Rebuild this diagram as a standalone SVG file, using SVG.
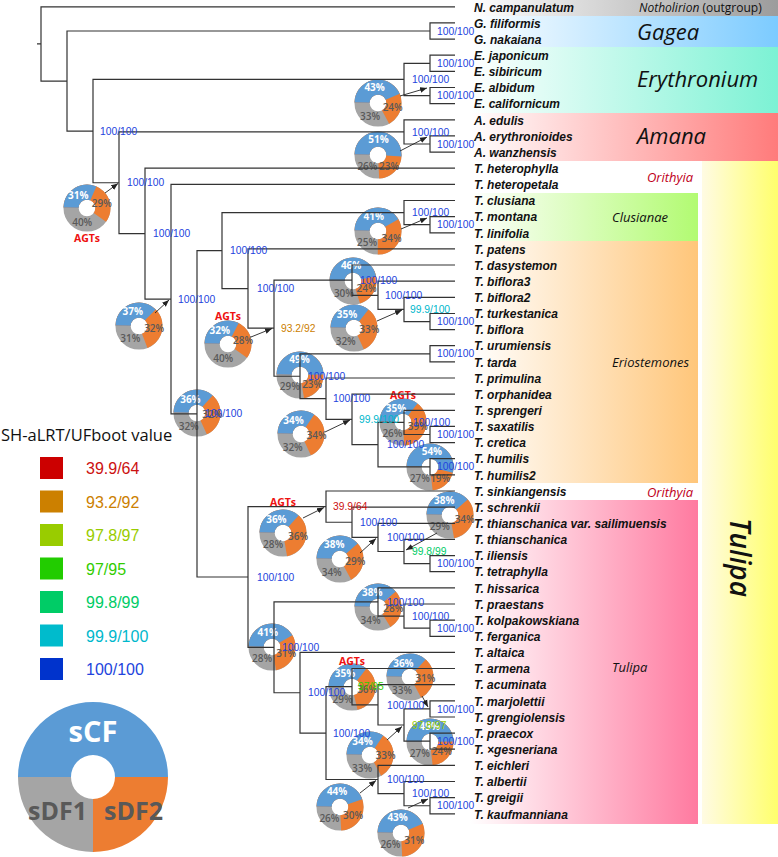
<svg xmlns="http://www.w3.org/2000/svg" width="778" height="857" viewBox="0 0 778 857">
<defs>
<style>
.tr{fill:none;stroke:#333;stroke-width:1.2}
.ar{stroke:#222;stroke-width:0.9}
.sv{font-family:"Liberation Sans",Arial,sans-serif;font-size:10.3px}
.c1{fill:#2244dd}.c2{fill:#00b8cc}.c3{fill:#00cc66}.c4{fill:#33cc00}.c5{fill:#99cc00}.c6{fill:#cc8000}.c7{fill:#cc1111}
.tx{font-family:"Liberation Sans",Arial,sans-serif;font-size:13.5px;font-weight:bold;font-style:italic;fill:#111}
.pr{fill:none;stroke-width:15.2}
.pg{stroke:#a5a5a5}
.po{stroke:#ed7d31;stroke-dashoffset:50}
.pb{stroke:#5b9bd5;stroke-dashoffset:50}
.pw{font-family:"Open Sans",sans-serif;font-size:10px;font-weight:700;fill:#fff;text-anchor:middle}
.pd{font-family:"Open Sans",sans-serif;font-size:10px;font-weight:600;fill:#595959;text-anchor:middle}
.agt{font-family:"Open Sans",sans-serif;font-size:10.5px;font-weight:700;fill:#ee1111;text-anchor:middle}
.cl{font-family:"Open Sans",sans-serif;font-style:italic;fill:#111}
.lg{font-family:"Liberation Sans",Arial,sans-serif;font-size:16px}
</style>
<linearGradient id="gN"><stop offset="0" stop-color="#fff"/><stop offset="1" stop-color="#9c9c9c"/></linearGradient>
<linearGradient id="gG"><stop offset="0" stop-color="#fff"/><stop offset="1" stop-color="#7ccbff"/></linearGradient>
<linearGradient id="gE"><stop offset="0" stop-color="#fff"/><stop offset="1" stop-color="#7cf2d4"/></linearGradient>
<linearGradient id="gA"><stop offset="0" stop-color="#fff"/><stop offset="1" stop-color="#ff7b7b"/></linearGradient>
<linearGradient id="gC"><stop offset="0" stop-color="#fff"/><stop offset="1" stop-color="#b2fb72"/></linearGradient>
<linearGradient id="gR"><stop offset="0" stop-color="#fff"/><stop offset="1" stop-color="#ffc67a"/></linearGradient>
<linearGradient id="gT"><stop offset="0" stop-color="#fff"/><stop offset="1" stop-color="#ff7aa0"/></linearGradient>
<linearGradient id="gY"><stop offset="0" stop-color="#fffbe3"/><stop offset="1" stop-color="#ffff6c"/></linearGradient>
<marker id="ah" viewBox="0 0 10 10" refX="10" refY="5" markerWidth="7" markerHeight="7" orient="auto" markerUnits="userSpaceOnUse"><path d="M0,1 L10,5 L0,9 z" fill="#222"/></marker>
</defs>
<rect width="778" height="857" fill="#fff"/>

<g id="bands">
<rect x="470" y="0" width="308" height="16" fill="url(#gN)"/>
<rect x="470" y="16" width="308" height="31" fill="url(#gG)"/>
<rect x="470" y="47" width="308" height="66" fill="url(#gE)"/>
<rect x="470" y="113" width="308" height="48" fill="url(#gA)"/>
<rect x="702" y="161" width="76" height="663" fill="url(#gY)"/>
<rect x="470" y="193" width="228" height="48" fill="url(#gC)"/>
<rect x="470" y="241" width="228" height="242" fill="url(#gR)"/>
<rect x="470" y="500" width="228" height="324" fill="url(#gT)"/>
<text class="cl" x="639" y="12" font-size="12"><tspan>Notholirion</tspan><tspan font-style="normal"> (outgroup)</tspan></text>
<text class="cl" x="637" y="39.5" font-size="22" font-weight="500">Gagea</text>
<text class="cl" x="637" y="87" font-size="22" font-weight="500">Erythronium</text>
<text class="cl" x="637" y="144" font-size="22" font-weight="500">Amana</text>
<text class="cl" x="647" y="182" font-size="13" font-weight="500" style="fill:#c0001a">Orithyia</text>
<text class="cl" x="612" y="221.5" font-size="13" font-weight="500">Clusianae</text>
<text class="cl" x="612" y="366.5" font-size="13" font-weight="500">Eriostemones</text>
<text class="cl" x="647" y="496.5" font-size="13" font-weight="500" style="fill:#c0001a">Orithyia</text>
<text class="cl" x="612" y="671.5" font-size="13" font-weight="500">Tulipa</text>
<text class="cl" transform="translate(730,518) rotate(90)" font-size="28" font-weight="600">Tulipa</text>
</g>

<g id="pies">
<g id="pie1" transform="translate(87,208)"><circle class="pr pg" r="15.915"/><circle class="pr po" r="15.915" stroke-dasharray="60 40"/><circle class="pr pb" r="15.915" stroke-dasharray="31 69"/><text class="pw" x="-8.7" y="-9.3">31%</text><text class="pd" x="14.9" y="-0.8">29%</text><text class="pd" x="-4.8" y="18.2">40%</text></g>
<g id="pie2" transform="translate(378,103)"><circle class="pr pg" r="15.915"/><circle class="pr po" r="15.915" stroke-dasharray="67 33"/><circle class="pr pb" r="15.915" stroke-dasharray="43 57"/><text class="pw" x="-3.4" y="-11.6">43%</text><text class="pd" x="14.7" y="8.3">24%</text><text class="pd" x="-7.9" y="16.8">33%</text></g>
<g id="pie3" transform="translate(378,155)"><circle class="pr pg" r="15.915"/><circle class="pr po" r="15.915" stroke-dasharray="74 26"/><circle class="pr pb" r="15.915" stroke-dasharray="51 49"/><text class="pw" x="0.5" y="-12">51%</text><text class="pd" x="11" y="14.5">23%</text><text class="pd" x="-10.6" y="14.8">26%</text></g>
<g id="pie4" transform="translate(378,231)"><circle class="pr pg" r="15.915"/><circle class="pr po" r="15.915" stroke-dasharray="75 25"/><circle class="pr pb" r="15.915" stroke-dasharray="41 59"/><text class="pw" x="-4.3" y="-11.4">41%</text><text class="pd" x="13.6" y="11">34%</text><text class="pd" x="-11" y="14.5">25%</text></g>
<g id="pie6" transform="translate(353,281)"><circle class="pr pg" r="15.915"/><circle class="pr po" r="15.915" stroke-dasharray="70 30"/><circle class="pr pb" r="15.915" stroke-dasharray="46 54"/><text class="pw" x="-1.9" y="-11.9">46%</text><text class="pd" x="13.6" y="11">24%</text><text class="pd" x="-9.1" y="16">30%</text></g>
<g id="pie7" transform="translate(354,328)"><circle class="pr pg" r="15.915"/><circle class="pr po" r="15.915" stroke-dasharray="68 32"/><circle class="pr pb" r="15.915" stroke-dasharray="35 65"/><text class="pw" x="-7" y="-10.3">35%</text><text class="pd" x="15.4" y="5">33%</text><text class="pd" x="-8.3" y="16.6">32%</text></g>
<g id="pie8" transform="translate(228,344)"><circle class="pr pg" r="15.915"/><circle class="pr po" r="15.915" stroke-dasharray="60 40"/><circle class="pr pb" r="15.915" stroke-dasharray="32 68"/><text class="pw" x="-8.3" y="-9.6">32%</text><text class="pd" x="15" y="-0.4">28%</text><text class="pd" x="-4.8" y="18.2">40%</text></g>
<g id="pie9" transform="translate(300,375)"><circle class="pr pg" r="15.915"/><circle class="pr po" r="15.915" stroke-dasharray="72 28"/><circle class="pr pb" r="15.915" stroke-dasharray="49 51"/><text class="pw" x="-0.5" y="-12">49%</text><text class="pd" x="12.2" y="13">23%</text><text class="pd" x="-10.2" y="15.1">29%</text></g>
<g id="pie10" transform="translate(139,326)"><circle class="pr pg" r="15.915"/><circle class="pr po" r="15.915" stroke-dasharray="69 31"/><circle class="pr pb" r="15.915" stroke-dasharray="37 63"/><text class="pw" x="-6.2" y="-10.7">37%</text><text class="pd" x="15.2" y="6.4">32%</text><text class="pd" x="-8.7" y="16.3">31%</text></g>
<g id="pie11" transform="translate(197,413)"><circle class="pr pg" r="15.915"/><circle class="pr po" r="15.915" stroke-dasharray="68 32"/><circle class="pr pb" r="15.915" stroke-dasharray="36 64"/><text class="pw" x="-6.6" y="-10.5">36%</text><text class="pd" x="15.4" y="5.4">32%</text><text class="pd" x="-8.3" y="16.6">32%</text></g>
<g id="pie12" transform="translate(301,434)"><circle class="pr pg" r="15.915"/><circle class="pr po" r="15.915" stroke-dasharray="68 32"/><circle class="pr pb" r="15.915" stroke-dasharray="34 66"/><text class="pw" x="-7.5" y="-10.1">34%</text><text class="pd" x="15.5" y="4.5">34%</text><text class="pd" x="-8.3" y="16.6">32%</text></g>
<g id="pie13" transform="translate(403,422)"><circle class="pr pg" r="15.915"/><circle class="pr po" r="15.915" stroke-dasharray="74 26"/><circle class="pr pb" r="15.915" stroke-dasharray="35 65"/><text class="pw" x="-7" y="-10.3">35%</text><text class="pd" x="14.9" y="7.8">39%</text><text class="pd" x="-10.6" y="14.8">26%</text></g>
<g id="pie14" transform="translate(430,467)"><circle class="pr pg" r="15.915"/><circle class="pr po" r="15.915" stroke-dasharray="73 27"/><circle class="pr pb" r="15.915" stroke-dasharray="54 46"/><text class="pw" x="1.9" y="-11.9">54%</text><text class="pd" x="10.2" y="15.1">19%</text><text class="pd" x="-10.2" y="15.1">27%</text></g>
<g id="pie15" transform="translate(283,533)"><circle class="pr pg" r="15.915"/><circle class="pr po" r="15.915" stroke-dasharray="72 28"/><circle class="pr pb" r="15.915" stroke-dasharray="36 64"/><text class="pw" x="-6.6" y="-10.5">36%</text><text class="pd" x="15" y="7.4">36%</text><text class="pd" x="-9.9" y="15.4">28%</text></g>
<g id="pie16" transform="translate(450,515)"><circle class="pr pg" r="15.915"/><circle class="pr po" r="15.915" stroke-dasharray="72 28"/><circle class="pr pb" r="15.915" stroke-dasharray="38 62"/><text class="pw" x="-5.7" y="-10.9">38%</text><text class="pd" x="14.7" y="8.3">34%</text><text class="pd" x="-10.2" y="15.1">29%</text></g>
<g id="pie17" transform="translate(340,559)"><circle class="pr pg" r="15.915"/><circle class="pr po" r="15.915" stroke-dasharray="67 33"/><circle class="pr pb" r="15.915" stroke-dasharray="38 62"/><text class="pw" x="-5.7" y="-10.9">38%</text><text class="pd" x="15.3" y="5.9">29%</text><text class="pd" x="-8.3" y="16.6">34%</text></g>
<g id="pie18" transform="translate(378,607)"><circle class="pr pg" r="15.915"/><circle class="pr po" r="15.915" stroke-dasharray="66 34"/><circle class="pr pb" r="15.915" stroke-dasharray="38 62"/><text class="pw" x="-5.7" y="-10.9">38%</text><text class="pd" x="15.4" y="5.4">28%</text><text class="pd" x="-7.5" y="17.1">34%</text></g>
<g id="pie19" transform="translate(272,647)"><circle class="pr pg" r="15.915"/><circle class="pr po" r="15.915" stroke-dasharray="72 28"/><circle class="pr pb" r="15.915" stroke-dasharray="41 59"/><text class="pw" x="-4.3" y="-11.4">41%</text><text class="pd" x="14.2" y="9.7">31%</text><text class="pd" x="-9.9" y="15.4">28%</text></g>
<g id="pie20" transform="translate(352,687)"><circle class="pr pg" r="15.915"/><circle class="pr po" r="15.915" stroke-dasharray="71 29"/><circle class="pr pb" r="15.915" stroke-dasharray="35 65"/><text class="pw" x="-7" y="-10.3">35%</text><text class="pd" x="15.2" y="6.4">36%</text><text class="pd" x="-9.5" y="15.7">29%</text></g>
<g id="pie21" transform="translate(410,677)"><circle class="pr pg" r="15.915"/><circle class="pr po" r="15.915" stroke-dasharray="67 33"/><circle class="pr pb" r="15.915" stroke-dasharray="36 64"/><text class="pw" x="-6.6" y="-10.5">36%</text><text class="pd" x="15.4" y="5">31%</text><text class="pd" x="-7.9" y="16.8">33%</text></g>
<g id="pie22" transform="translate(430,742)"><circle class="pr pg" r="15.915"/><circle class="pr po" r="15.915" stroke-dasharray="73 27"/><circle class="pr pb" r="15.915" stroke-dasharray="49 51"/><text class="pw" x="-0.5" y="-12">49%</text><text class="pd" x="11.9" y="13.4">24%</text><text class="pd" x="-10.2" y="15.1">27%</text></g>
<g id="pie23" transform="translate(370,755)"><circle class="pr pg" r="15.915"/><circle class="pr po" r="15.915" stroke-dasharray="67 33"/><circle class="pr pb" r="15.915" stroke-dasharray="34 66"/><text class="pw" x="-7.5" y="-10.1">34%</text><text class="pd" x="15.5" y="4">33%</text><text class="pd" x="-7.9" y="16.8">33%</text></g>
<g id="pie24" transform="translate(340,807)"><circle class="pr pg" r="15.915"/><circle class="pr po" r="15.915" stroke-dasharray="74 26"/><circle class="pr pb" r="15.915" stroke-dasharray="44 56"/><text class="pw" x="-2.9" y="-11.7">44%</text><text class="pd" x="13.1" y="11.8">30%</text><text class="pd" x="-10.6" y="14.8">26%</text></g>
<g id="pie25" transform="translate(401,833)"><circle class="pr pg" r="15.915"/><circle class="pr po" r="15.915" stroke-dasharray="74 26"/><circle class="pr pb" r="15.915" stroke-dasharray="43 57"/><text class="pw" x="-3.4" y="-11.6">43%</text><text class="pd" x="13.3" y="11.4">31%</text><text class="pd" x="-10.6" y="14.8">26%</text></g>
<text class="agt" x="87" y="241.5">AGTs</text>
<text class="agt" x="228" y="319.5">AGTs</text>
<text class="agt" x="403" y="398.5">AGTs</text>
<text class="agt" x="283" y="505.5">AGTs</text>
<text class="agt" x="352" y="664.5">AGTs</text>
</g>

<g id="connectors">
<path class="tr" d="M37 43.9H41 M455 6.8H41V81.05H67 M430 31H67V131.1H93 M455 22.9H430V39.1H455 M404 79.4H93V182.75H119 M430 63.3H404V95.55H430 M455 55.2H430V71.4H455 M455 87.5H430V103.6H455 M404 131.9H119V233.6H145 M455 119.8H404V144H430 M455 135.9H430V152.1H455 M455 168.2H145V299.05H171 M455 184.3H171V413.8H197 M222 250.6H197V577H248 M404 212.6H222V288.55H248 M455 200.5H404V224.7H430 M455 216.6H430V232.8H455 M455 248.9H248V328.2H274 M352 280.15H274V376.25H300 M455 265H352V295.3H378 M455 281.2H378V309.4H404 M455 297.3H404V321.55H430 M455 313.5H430V329.6H455 M430 353.8H300V398.7H326 M455 345.7H430V361.9H455 M455 378H326V419.4H352 M455 394.2H352V444.6H378 M404 422.4H378V466.8H430 M455 410.3H404V434.5H430 M455 426.4H430V442.6H455 M455 458.7H430V474.9H455"/>
<path class="tr" d="M326 506.6H248V647.35H274 M455 491H326V522.25H352 M455 507.1H352V537.4H378 M455 523.3H378V551.5H404 M455 539.4H404V563.65H430 M455 555.6H430V571.7H455 M378 601.95H274V692.75H300 M455 587.8H378V616.1H404 M455 604H404V628.2H430 M455 620.1H430V636.3H455 M455 652.4H300V733.1H326 M352 686.7H326V779.5H378 M455 668.5H352V704.85H378 M455 684.7H378V725H404 M430 708.9H404V741.15H430 M455 700.8H430V717H455 M455 733.1H430V749.2H455 M455 765.4H378V793.6H404 M455 781.5H404V805.75H430 M455 797.7H430V813.8H455"/>
<g marker-end="url(#ah)">
<line class="ar" x1="105" y1="193" x2="118" y2="183.5"/>
<line class="ar" x1="400" y1="96" x2="427" y2="88"/>
<line class="ar" x1="400" y1="151" x2="427" y2="137"/>
<line class="ar" x1="401" y1="229" x2="427" y2="218"/>
<line class="ar" x1="377" y1="321" x2="402" y2="310"/>
<line class="ar" x1="251" y1="337" x2="272" y2="328.5"/>
<line class="ar" x1="155" y1="313" x2="169" y2="300"/>
<line class="ar" x1="325" y1="432" x2="350" y2="420"/>
<line class="ar" x1="303" y1="518" x2="324" y2="507.5"/>
<line class="ar" x1="437" y1="533" x2="406" y2="550"/>
<line class="ar" x1="360" y1="553" x2="376" y2="538.5"/>
<line class="ar" x1="422" y1="696" x2="428" y2="707"/>
<line class="ar" x1="387" y1="740" x2="402" y2="726.5"/>
<line class="ar" x1="360" y1="793" x2="376" y2="780.5"/>
<line class="ar" x1="408" y1="808" x2="428" y2="799"/>
</g>
</g>

<g id="support" class="sv">
<text class="c1" x="437" y="34.6">100/100</text>
<text class="c1" x="437" y="66.9">100/100</text>
<text class="c1" x="437" y="99.2">100/100</text>
<text class="c1" x="412" y="83">100/100</text>
<text class="c1" x="412" y="135.5">100/100</text>
<text class="c1" x="437" y="147.6">100/100</text>
<text class="c1" x="100" y="134.7">100/100</text>
<text class="c1" x="127" y="186.4">100/100</text>
<text class="c1" x="153" y="237.2">100/100</text>
<text class="c1" x="178" y="302.6">100/100</text>
<text class="c1" x="205" y="417.4">100/100</text>
<text class="c1" x="230" y="254.2">100/100</text>
<text class="c1" x="412" y="216.2">100/100</text>
<text class="c1" x="437" y="228.3">100/100</text>
<text class="c1" x="257" y="292.1">100/100</text>
<text class="c6" x="281" y="331.8">93.2/92</text>
<text class="c1" x="360" y="283.8">100/100</text>
<text class="c1" x="385" y="298.9">100/100</text>
<text class="c2" x="410" y="313">99.9/100</text>
<text class="c1" x="437" y="325.2">100/100</text>
<text class="c1" x="437" y="357.4">100/100</text>
<text class="c1" x="308" y="379.9">100/100</text>
<text class="c1" x="333" y="402.3">100/100</text>
<text class="c2" x="359" y="423">99.9/100</text>
<text class="c1" x="413" y="426">100/100</text>
<text class="c1" x="437" y="438.1">100/100</text>
<text class="c1" x="387" y="448.2">100/100</text>
<text class="c1" x="437" y="470.4">100/100</text>
<text class="c1" x="257" y="580.6">100/100</text>
<text class="c7" x="333" y="510.2">39.9/64</text>
<text class="c1" x="360" y="525.9">100/100</text>
<text class="c1" x="387" y="541">100/100</text>
<text class="c3" x="412" y="555.1">99.8/99</text>
<text class="c1" x="437" y="567.3">100/100</text>
<text class="c1" x="282" y="651">100/100</text>
<text class="c1" x="387" y="605.6">100/100</text>
<text class="c1" x="412" y="619.7">100/100</text>
<text class="c1" x="437" y="631.8">100/100</text>
<text class="c1" x="308" y="696.4">100/100</text>
<text class="c1" x="333" y="736.7">100/100</text>
<text class="c4" x="358" y="690.3">97/95</text>
<text class="c1" x="387" y="708.5">100/100</text>
<text class="c5" x="412" y="728.6">97.8/97</text>
<text class="c1" x="437" y="712.5">100/100</text>
<text class="c1" x="437" y="744.8">100/100</text>
<text class="c1" x="387" y="783.1">100/100</text>
<text class="c1" x="412" y="797.2">100/100</text>
<text class="c1" x="437" y="809.4">100/100</text>
</g>

<g id="taxa" class="tx" transform="translate(474,0) scale(0.89,1)">
<g id="t00"><text y="11.6">N. campanulatum</text></g>
<g id="t01"><text y="27.7">G. filiformis</text></g>
<g id="t02"><text y="43.9">G. nakaiana</text></g>
<g id="t03"><text y="60">E. japonicum</text></g>
<g id="t04"><text y="76.2">E. sibiricum</text></g>
<g id="t05"><text y="92.3">E. albidum</text></g>
<g id="t06"><text y="108.4">E. californicum</text></g>
<g id="t07"><text y="124.6">A. edulis</text></g>
<g id="t08"><text y="140.7">A. erythronioides</text></g>
<g id="t09"><text y="156.9">A. wanzhensis</text></g>
<g id="t10"><text y="173">T. heterophylla</text></g>
<g id="t11"><text y="189.1">T. heteropetala</text></g>
<g id="t12"><text y="205.3">T. clusiana</text></g>
<g id="t13"><text y="221.4">T. montana</text></g>
<g id="t14"><text y="237.6">T. linifolia</text></g>
<g id="t15"><text y="253.7">T. patens</text></g>
<g id="t16"><text y="269.8">T. dasystemon</text></g>
<g id="t17"><text y="286">T. biflora3</text></g>
<g id="t18"><text y="302.1">T. biflora2</text></g>
<g id="t19"><text y="318.3">T. turkestanica</text></g>
<g id="t20"><text y="334.4">T. biflora</text></g>
<g id="t21"><text y="350.5">T. urumiensis</text></g>
<g id="t22"><text y="366.7">T. tarda</text></g>
<g id="t23"><text y="382.8">T. primulina</text></g>
<g id="t24"><text y="399">T. orphanidea</text></g>
<g id="t25"><text y="415.1">T. sprengeri</text></g>
<g id="t26"><text y="431.2">T. saxatilis</text></g>
<g id="t27"><text y="447.4">T. cretica</text></g>
<g id="t28"><text y="463.5">T. humilis</text></g>
<g id="t29"><text y="479.7">T. humilis2</text></g>
<g id="t30"><text y="495.8">T. sinkiangensis</text></g>
<g id="t31"><text y="511.9">T. schrenkii</text></g>
<g id="t32"><text y="528.1">T. thianschanica var. sailimuensis</text></g>
<g id="t33"><text y="544.2">T. thianschanica</text></g>
<g id="t34"><text y="560.4">T. iliensis</text></g>
<g id="t35"><text y="576.5">T. tetraphylla</text></g>
<g id="t36"><text y="592.6">T. hissarica</text></g>
<g id="t37"><text y="608.8">T. praestans</text></g>
<g id="t38"><text y="624.9">T. kolpakowskiana</text></g>
<g id="t39"><text y="641.1">T. ferganica</text></g>
<g id="t40"><text y="657.2">T. altaica</text></g>
<g id="t41"><text y="673.3">T. armena</text></g>
<g id="t42"><text y="689.5">T. acuminata</text></g>
<g id="t43"><text y="705.6">T. marjolettii</text></g>
<g id="t44"><text y="721.8">T. grengiolensis</text></g>
<g id="t45"><text y="737.9">T. praecox</text></g>
<g id="t46"><text y="754">T. ×gesneriana</text></g>
<g id="t47"><text y="770.2">T. eichleri</text></g>
<g id="t48"><text y="786.3">T. albertii</text></g>
<g id="t49"><text y="802.5">T. greigii</text></g>
<g id="t50"><text y="818.6">T. kaufmanniana</text></g>
</g>

<g id="legend">
<text x="1" y="441" font-family="'Open Sans',sans-serif" font-size="16.5" fill="#111">SH-aLRT/UFboot value</text>
<rect x="40" y="457" width="23" height="22" fill="#cc0000"/>
<rect x="40" y="490.5" width="23" height="22" fill="#cc8000"/>
<rect x="40" y="524" width="23" height="22" fill="#99cc00"/>
<rect x="40" y="557.5" width="23" height="22" fill="#22cc00"/>
<rect x="40" y="591" width="23" height="22" fill="#00cc66"/>
<rect x="40" y="624.5" width="23" height="22" fill="#00bbcc"/>
<rect x="40" y="658" width="23" height="22" fill="#0033cc"/>
<text class="lg" x="86" y="474" fill="#cc1111">39.9/64</text>
<text class="lg" x="86" y="507.5" fill="#cc8000">93.2/92</text>
<text class="lg" x="86" y="541" fill="#99cc00">97.8/97</text>
<text class="lg" x="86" y="574.5" fill="#33cc00">97/95</text>
<text class="lg" x="86" y="608" fill="#00cc66">99.8/99</text>
<text class="lg" x="86" y="641.5" fill="#00b8cc">99.9/100</text>
<text class="lg" x="86" y="675" fill="#2244dd">100/100</text>
<g id="legend-donut">
<path d="M18 777A75 75 0 0 1 168 777L115 777A22 22 0 0 0 71 777Z" fill="#5b9bd5"/>
<path d="M168 777A75 75 0 0 1 93 852L93 799A22 22 0 0 0 115 777Z" fill="#ed7d31"/>
<path d="M93 852A75 75 0 0 1 18 777L71 777A22 22 0 0 0 93 799Z" fill="#a5a5a5"/>
<text x="93" y="742" text-anchor="middle" font-family="'Open Sans',sans-serif" font-weight="700" font-size="29" fill="#fff">sCF</text>
<text x="28" y="820" font-family="'Open Sans',sans-serif" font-weight="700" font-size="25" fill="#595959">sDF1</text>
<text x="104" y="820" font-family="'Open Sans',sans-serif" font-weight="700" font-size="25" fill="#595959">sDF2</text>
</g>
</g>
</svg>
